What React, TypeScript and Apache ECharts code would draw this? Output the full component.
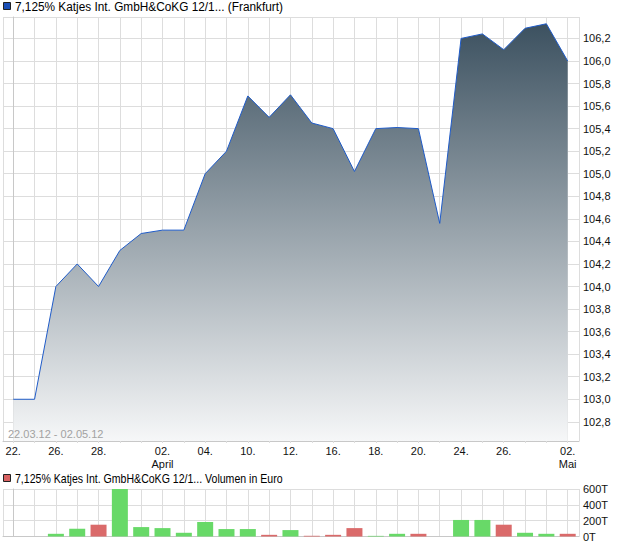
import React, { useEffect, useRef } from "react";
import * as echarts from "echarts";

const dates = ["22.03", "23.03", "26.03", "27.03", "28.03", "29.03", "30.03", "02.04", "03.04", "04.04", "05.04", "10.04", "11.04", "12.04", "13.04", "16.04", "17.04", "18.04", "19.04", "20.04", "23.04", "24.04", "25.04", "26.04", "27.04", "30.04", "02.05"];
const tickLabels = ["22.", "", "26.", "", "28.", "", "", "02.\nApril", "", "04.", "", "10.", "", "12.", "", "16.", "", "18.", "", "20.", "", "24.", "", "26.", "", "", "02.\nMai"];
const prices = [103.0, 103.0, 104.0, 104.2, 104.0, 104.32, 104.47, 104.5, 104.5, 105.0, 105.2, 105.69, 105.5, 105.7, 105.45, 105.4, 105.02, 105.4, 105.41, 105.4, 104.56, 106.2, 106.24, 106.1, 106.29, 106.33, 106.0];
const volumesT = [0, 0, 34, 98, 149, 600, 119, 106, 47, 183, 94, 94, 21, 81, 9, 21, 106, 8, 34, 34, 0, 209, 209, 149, 47, 34, 34];
const volumeTicks = [0, 200, 400, 600];

const titleText = "7,125% Katjes Int. GmbH&CoKG 12/1... (Frankfurt)";
const volumeTitle = "7,125% Katjes Int. GmbH&CoKG 12/1... Volumen in Euro";
const rangeText = "22.03.12 - 02.05.12";

const FONT = "'Liberation Sans', Arial, sans-serif";
const GRID_COLOR = "#dddddd";
const AXIS_COLOR = "#c8c8c8";
const UP = "#68d968";
const DOWN = "#da6a6a";

export default function App() {
  const ref = useRef<HTMLDivElement>(null);

  useEffect(() => {
    document.body.style.margin = "0";
    const chart = echarts.init(ref.current!, null, { renderer: "svg" });

    const priceData = prices.map((p, i) => [i, p]);
    const volData = volumesT.map((v, i) => ({
      value: [i, v],
      itemStyle: { color: i > 0 && prices[i] < prices[i - 1] ? DOWN : UP },
    }));

    const xCommon = {
      type: "value" as const,
      min: -0.48,
      max: 26.53,
      minInterval: 1,
      maxInterval: 1,
      splitLine: { show: true, lineStyle: { color: GRID_COLOR, width: 1 } },
    };

    chart.setOption({
      animation: false,
      textStyle: { fontFamily: FONT },
      grid: [
        { left: 3, right: 41, top: 17, bottom: 105, containLabel: false },
        { left: 3, right: 41, top: 489, bottom: 9.5, containLabel: false },
      ],
      xAxis: [
        {
          ...xCommon,
          gridIndex: 0,
          axisLine: { show: true, lineStyle: { color: AXIS_COLOR } },
          axisTick: { show: true, length: 2, lineStyle: { color: GRID_COLOR } },
          axisLabel: {
            show: true,
            showMinLabel: false,
            showMaxLabel: false,
            margin: 3,
            fontSize: 11,
            lineHeight: 13,
            color: "#111",
            fontFamily: FONT,
            formatter: (v: number) => {
              const r = Math.round(v);
              if (Math.abs(v - r) > 1e-6) return "";
              return tickLabels[r] ?? "";
            },
          },
        },
        {
          ...xCommon,
          gridIndex: 1,
          axisLine: { show: true, lineStyle: { color: AXIS_COLOR } },
          axisTick: { show: false },
          axisLabel: { show: false },
        },
      ],
      yAxis: [
        {
          type: "value",
          gridIndex: 0,
          position: "right",
          min: 102.63,
          max: 106.39,
          minInterval: 0.2,
          maxInterval: 0.2,
          splitNumber: 18,
          axisLine: { show: true, lineStyle: { color: AXIS_COLOR } },
          axisTick: { show: false },
          splitLine: { show: true, lineStyle: { color: GRID_COLOR, width: 1 } },
          axisLabel: {
            showMinLabel: false,
            showMaxLabel: false,
            margin: 4,
            fontSize: 11,
            color: "#111",
            fontFamily: FONT,
            formatter: (v: number) => v.toFixed(1).replace(".", ","),
          },
        },
        {
          type: "value",
          gridIndex: 1,
          position: "right",
          min: volumeTicks[0],
          max: volumeTicks[volumeTicks.length - 1],
          interval: volumeTicks[1] - volumeTicks[0],
          axisLine: { show: true, lineStyle: { color: AXIS_COLOR } },
          axisTick: { show: false },
          splitLine: { show: true, lineStyle: { color: GRID_COLOR, width: 1 } },
          axisLabel: {
            margin: 4,
            fontSize: 11,
            color: "#111",
            fontFamily: FONT,
            formatter: (v: number) => `${v}T`,
          },
        },
      ],
      series: [
        {
          type: "line",
          name: "Kurs",
          xAxisIndex: 0,
          yAxisIndex: 0,
          data: priceData,
          showSymbol: false,
          symbol: "none",
          lineStyle: { color: "#1f5bc8", width: 1 },
          areaStyle: {
            origin: "start",
            opacity: 1,
            color: new echarts.graphic.LinearGradient(0, 0, 0, 1, [
              { offset: 0, color: "#3c5160" },
              { offset: 1, color: "#f6f7f8" },
            ]),
          },
          z: 3,
        },
        {
          type: "bar",
          name: "Volumen",
          xAxisIndex: 1,
          yAxisIndex: 1,
          data: volData,
          barWidth: 16,
          z: 3,
        },
      ],
      graphic: [
        {
          type: "rect",
          shape: { x: 3.5, y: 2.5, width: 7, height: 7 },
          style: { fill: "#1b50b8", stroke: "#222", lineWidth: 1 },
          z: 10,
        },
        {
          type: "text",
          x: 15,
          y: 7,
          scaleX: 0.985,
          style: {
            text: titleText,
            fill: "#000",
            font: `12px ${FONT}`,
            verticalAlign: "middle",
          },
          z: 10,
        },
        {
          type: "text",
          x: 8,
          y: 434,
          style: {
            text: rangeText,
            fill: "#a2a2a2",
            font: `11px ${FONT}`,
            verticalAlign: "middle",
          },
          z: 10,
        },
        {
          type: "rect",
          shape: { x: 3.5, y: 474.5, width: 7, height: 7 },
          style: { fill: "#d96262", stroke: "#222", lineWidth: 1 },
          z: 10,
        },
        {
          type: "text",
          x: 15,
          y: 479,
          scaleX: 0.88,
          style: {
            text: volumeTitle,
            fill: "#000",
            font: `12px ${FONT}`,
            verticalAlign: "middle",
          },
          z: 10,
        },
      ],
    });

    return () => chart.dispose();
  }, []);

  return (
    <div
      ref={ref}
      data-dates={dates.length}
      style={{ position: "absolute", left: 0, top: 0, width: 620, height: 546, background: "#fff" }}
    />
  );
}
